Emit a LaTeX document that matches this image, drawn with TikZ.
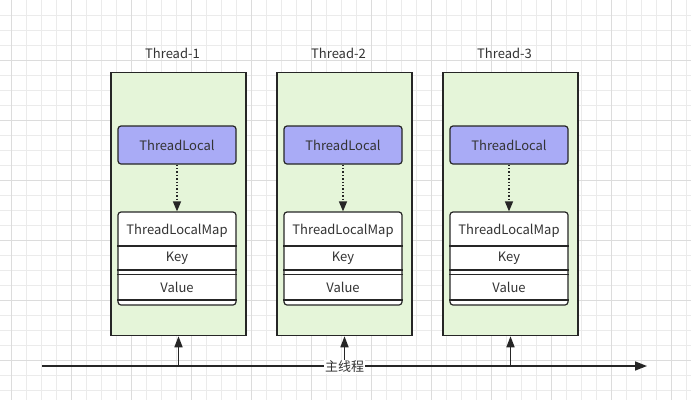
\documentclass[tikz,border=0pt]{standalone}
\usepackage{fontspec}
\setmainfont{Noto Sans CJK SC}
\usetikzlibrary{arrows.meta}
\definecolor{gridminor}{HTML}{EBEBEB}
\definecolor{gridmajor}{HTML}{DCDCDC}
\definecolor{thrfill}{HTML}{E5F5D9}
\definecolor{tlfill}{HTML}{A9ABF6}
\definecolor{ink}{HTML}{262626}
\definecolor{txt}{HTML}{333333}
\begin{document}
\begin{tikzpicture}[x=1pt,y=-1pt,
  threadbox/.style={draw=ink,fill=thrfill,line width=1.5pt,minimum width=135pt,minimum height=263pt,inner sep=0pt},
  tlbox/.style={draw=ink,fill=tlfill,line width=1.2pt,rounded corners=3pt,minimum width=118pt,minimum height=38pt,inner sep=0pt,text=txt,font=\fontsize{13}{15}\selectfont},
  mapbox/.style={draw=ink,fill=white,line width=1.2pt,rounded corners=3pt,minimum width=118pt,minimum height=93pt,inner sep=0pt},
  rowtxt/.style={text=txt,font=\fontsize{13}{15}\selectfont,inner sep=0pt},
  lbl/.style={text=txt,font=\fontsize{13}{15}\selectfont,inner sep=0pt},
  sep/.style={draw=ink,line width=1.2pt},
  dotarrow/.style={draw=ink,line width=1.4pt,dotted,-{Triangle[length=10pt,width=8pt]}},
  solidarrow/.style={draw=ink,line width=1.5pt,-{Triangle[length=11pt,width=8pt]}},
]
\useasboundingbox (0,0) rectangle (691,400);
\fill[white] (0,0) rectangle (691,400);
% grid
\foreach \x in {11,26,...,686} \draw[gridminor,line width=0.8pt] (\x,0) -- (\x,400);
\foreach \y in {15,30,...,399} \draw[gridminor,line width=0.8pt] (0,\y) -- (691,\y);
\foreach \x in {11,71,...,686} \draw[gridmajor,line width=0.8pt] (\x,0) -- (\x,400);
\foreach \y in {60,120,...,399} \draw[gridmajor,line width=0.8pt] (0,\y) -- (691,\y);

\foreach \i/\cx in {1/178.5,2/344.5,3/510.5}{
  \node[lbl] (l\i) at (\cx-6,53) {Thread-\i};
  \node[threadbox] (t\i) at (\cx,204) {};
  \node[tlbox] (tl\i) at (\cx-1.5,145) {ThreadLocal};
  \node[mapbox] (m\i) at (\cx-1.5,258.5) {};
  \node[rowtxt] (h\i) at (\cx-1.5,230.5) {ThreadLocalMap};
  \node[rowtxt] (k\i) at (\cx-1.5,258.5) {Key};
  \node[rowtxt] (v\i) at (\cx-1.5,287.5) {Value};
  \draw[sep] (m\i.west |- 0,246) -- (m\i.east |- 0,246);
  \draw[sep] (m\i.west |- 0,270) -- (m\i.east |- 0,270);
  \draw[sep] (m\i.west |- 0,274.3) -- (m\i.east |- 0,274.3);
  \draw[sep] (m\i.west |- 0,300) -- (m\i.east |- 0,300);
  \draw[dotarrow] (tl\i.south) -- (m\i.north);
  \coordinate (b\i) at (\cx,366);
  \draw[solidarrow] (b\i) -- (t\i.south);
}
\coordinate (ms) at (42,366);
\coordinate (me) at (647,366);
\draw[draw=ink,line width=1.5pt,-{Triangle[length=12pt,width=9pt]}] (ms) -- (me);
\node[lbl,fill=white,inner sep=1pt] (main) at (344.5,367) {主线程};
\end{tikzpicture}
\end{document}
